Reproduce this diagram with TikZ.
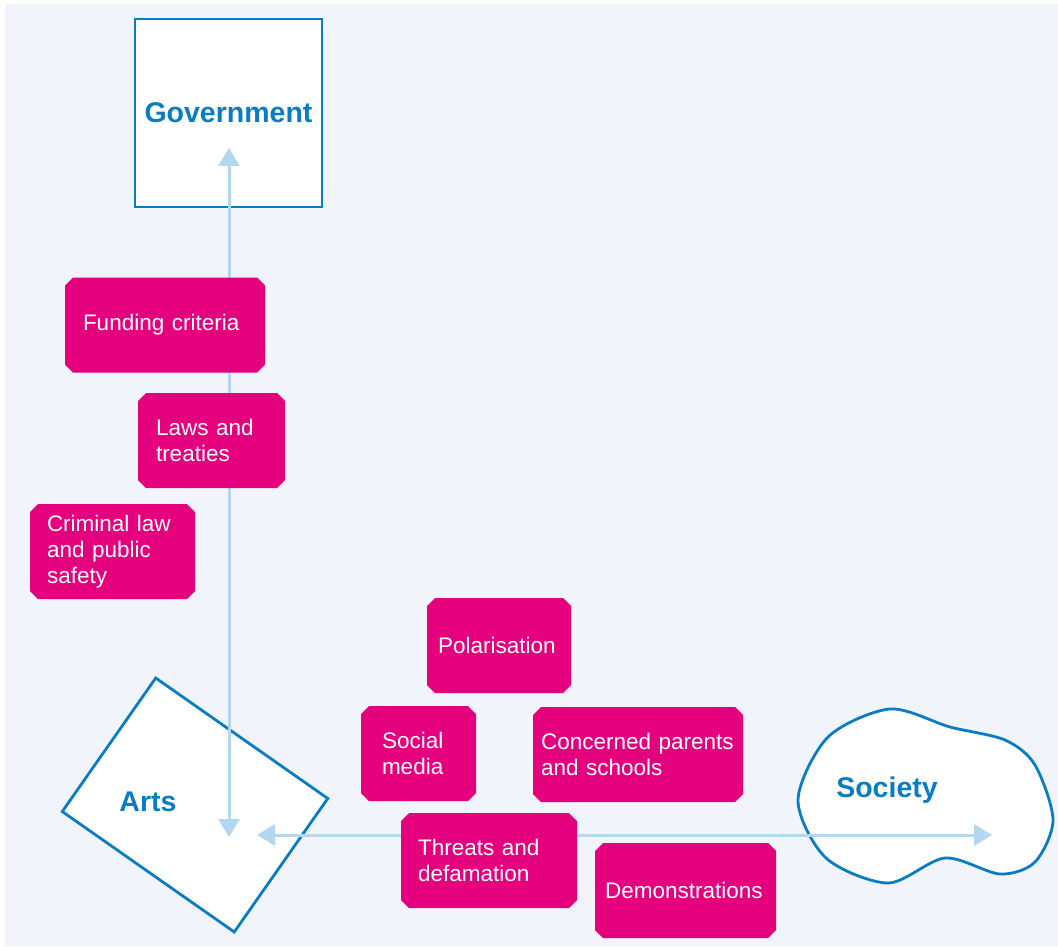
\documentclass[tikz,border=0pt]{standalone}
\usepackage{fontspec}
\setmainfont{Liberation Sans}
\usetikzlibrary{arrows.meta,shapes.misc}

\definecolor{bgblue}{HTML}{F1F5FB}
\definecolor{lineblue}{HTML}{0A7DC2}
\definecolor{arrowblue}{HTML}{B3D7EE}
\definecolor{issuepink}{HTML}{E5007D}

\begin{document}
\begin{tikzpicture}[x=1pt,y=-1pt]
	\tikzset{actor/.style={draw=lineblue,line width=2.8pt,fill=white},
		actortext/.style={text=lineblue,font=\fontsize{28.5}{32}\selectfont\bfseries},
		issue/.style={chamfered rectangle,chamfered rectangle xsep=4pt,chamfered rectangle ysep=4pt,
			fill=issuepink,text=white,align=left,minimum height=95pt,
			font=\fontsize{22.5}{26}\selectfont},
		link/.style={draw=arrowblue,line width=3pt,
			{Triangle[width=21pt,length=18pt]}-{Triangle[width=21pt,length=18pt]}}}

	\useasboundingbox (0,0) rectangle (1058,947);
	\fill[bgblue] (5,4) rectangle (1058,946);

	%% Actors
	\node[actor,actortext,minimum width=187pt,minimum height=188pt] (gov) at (228.5,113) {Government};
	\node[actor,rotate=-35,minimum width=210pt,minimum height=163pt] (arts) at (195,805) {};
	\node[actortext] (artslabel) at (148,802) {Arts};
	\draw[actor] plot[smooth cycle] coordinates {(798,800) (828,737) (890,709) (950,727) (1005,740)
		(1035,765) (1053,820) (1035,862) (1000,874) (945,858) (888,883) (826,858)};
	\node[actortext] (soc) at (887,790) {Society};

	%% Arrows
	\coordinate (govtip) at (229,148);
	\coordinate (artstop) at (229,837);
	\coordinate (artsright) at (257,835);
	\coordinate (soctip) at (992,835);
	\draw[link] (artstop) -- (govtip);
	\draw[link] (artsright) -- (soctip);

	%% Pressures
	\node[issue,text width=164pt,inner xsep=14pt] (funding) at (165,325) {Funding criteria};
	\node[issue,text width=111pt,inner xsep=14pt] (laws) at (211.5,440.5) {Laws and\\treaties};
	\node[issue,text width=131pt,inner xsep=13pt] (criminal) at (112.5,551.5) {Criminal law\\and public\\safety};
	\node[issue,text width=122pt,inner xsep=7pt] (polar) at (499,645.5) {Polarisation};
	\node[issue,text width=73pt,inner xsep=17pt] (social) at (418.5,753.5) {Social\\media};
	\node[issue,text width=194pt,inner xsep=4pt] (parents) at (638,754.5) {Concerned parents\\and schools};
	\node[issue,text width=142pt,inner xsep=13pt] (threats) at (489,860.5) {Threats and\\defamation};
	\node[issue,text width=161pt,inner xsep=6pt] (demo) at (685.5,890.5) {Demonstrations};
\end{tikzpicture}
\end{document}
